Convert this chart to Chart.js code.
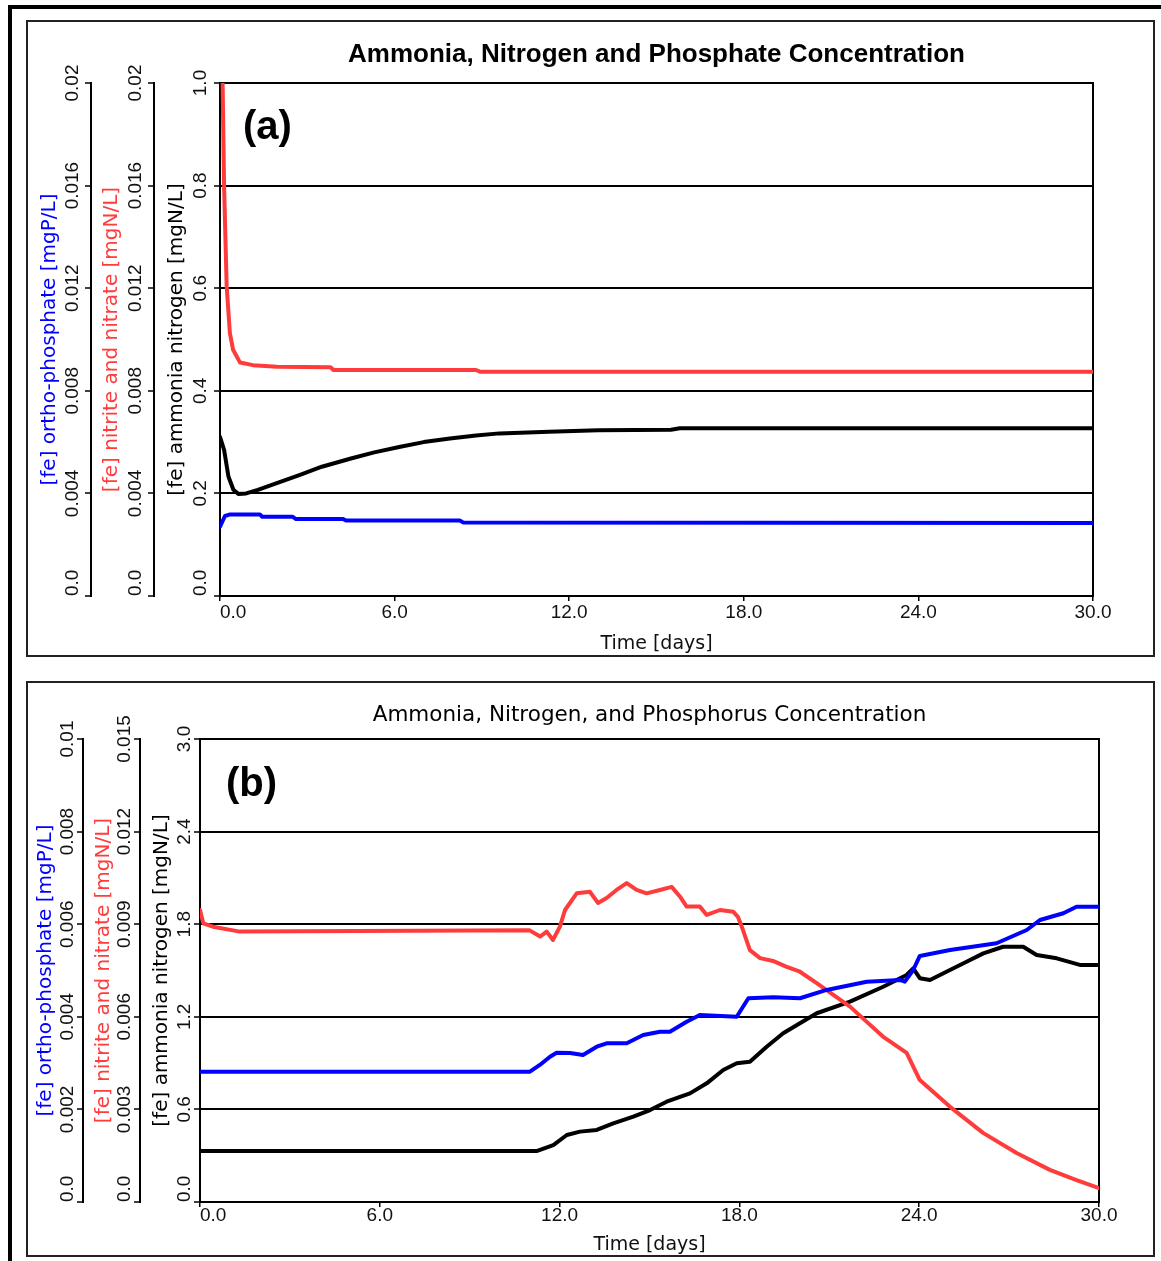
<!DOCTYPE html>
<html>
<head>
<meta charset="utf-8">
<script src="https://cdn.jsdelivr.net/npm/chart.js@4.4.1/dist/chart.umd.min.js"></script>
<style>
  body { margin: 0; background: #fff; width: 1161px; height: 1261px; position: relative; overflow: hidden; }
  .outer { position: absolute; left: 8px; top: 5px; width: 1160px; height: 1260px; border-top: 4px solid #000; border-left: 4px solid #000; }
  .panel { position: absolute; left: 26px; border: 2px solid #222; }
  #panelA { top: 20px; width: 1125px; height: 633px; }
  #panelB { top: 681px; width: 1125px; height: 572px; }
  .tag { position: absolute; font: bold 40px "Liberation Sans", Arial, sans-serif; line-height: 40px; color: #000; }
</style>
</head>
<body>
<div class="outer"></div>
<div class="panel" id="panelA"><canvas id="chartA" width="1125" height="633"></canvas></div>
<div class="panel" id="panelB"><canvas id="chartB" width="1125" height="572"></canvas></div>
<div class="tag" style="left:243px; top:105px;">(a)</div>
<div class="tag" style="left:226px; top:762px;">(b)</div>
<script>
// ---- panel (a) data ----
const daysA_phosphate = [0, 0.17, 0.35, 1.37, 1.45, 2.5, 2.6, 4.23, 4.33, 8.25, 8.35, 30];
const phosphateA = [0.0027, 0.00312, 0.00318, 0.00318, 0.00309, 0.00309, 0.00300, 0.00300, 0.00294, 0.00294, 0.00287, 0.00285];
const daysA_nitrate = [0, 0.09, 0.14, 0.23, 0.34, 0.45, 0.69, 1.13, 1.96, 3.8, 3.9, 8.8, 8.95, 30];
const nitrateA = [0.0215, 0.0200, 0.0160, 0.01205, 0.01025, 0.0096, 0.0091, 0.0090, 0.00894, 0.00892, 0.00881, 0.00881, 0.00874, 0.00874];
const daysA_ammonia = [0, 0.14, 0.29, 0.46, 0.63, 0.9, 1.3, 2, 2.75, 3.5, 4.5, 5.3, 6.2, 7, 7.9, 8.8, 9.6, 11.3, 13, 15.5, 15.8, 20, 25, 30];
const ammoniaA = [0.31, 0.285, 0.233, 0.207, 0.199, 0.200, 0.207, 0.221, 0.236, 0.252, 0.268, 0.280, 0.291, 0.300, 0.307, 0.313, 0.317, 0.320, 0.323, 0.324, 0.327, 0.327, 0.327, 0.327];

// ---- panel (b) data ----
const daysB_phosphate = [0, 11.01, 11.34, 11.68, 11.9, 12.35, 12.78, 13.24, 13.57, 14.24, 14.79, 15.35, 15.68, 16.24, 16.68, 17.91, 18.3, 19.13, 20.02, 20.91, 22.25, 23.36, 23.52, 23.8, 24.02, 25.03, 26.58, 27.59, 28.03, 28.81, 29.25, 30];
const phosphateB = [0.002814, 0.002814, 0.00296, 0.003138, 0.003225, 0.003218, 0.003175, 0.003354, 0.003428, 0.003428, 0.003607, 0.003678, 0.003678, 0.003894, 0.004039, 0.004002, 0.0044, 0.004422, 0.0044, 0.00458, 0.004758, 0.004795, 0.004758, 0.005011, 0.005314, 0.005443, 0.005588, 0.005875, 0.006091, 0.006236, 0.006378, 0.006378];
const daysB_nitrate = [0, 0.11, 0.43, 1.33, 11.0, 11.35, 11.57, 11.78, 12.01, 12.18, 12.57, 13.01, 13.28, 13.57, 13.9, 14.24, 14.57, 14.9, 15.35, 15.74, 16.02, 16.24, 16.68, 16.91, 17.35, 17.8, 17.95, 18.12, 18.35, 18.69, 19.12, 19.58, 20.02, 20.58, 21.69, 22.79, 23.58, 24.02, 25.02, 26.13, 27.25, 28.36, 29.25, 30];
const nitrateB = [0.00946, 0.00903, 0.00892, 0.00876, 0.00880, 0.00860, 0.00876, 0.00849, 0.00892, 0.00946, 0.01000, 0.01005, 0.00969, 0.00985, 0.01011, 0.01033, 0.01011, 0.01000, 0.01011, 0.01021, 0.00989, 0.00957, 0.00957, 0.00930, 0.00946, 0.00940, 0.00924, 0.00881, 0.00816, 0.00790, 0.00781, 0.00762, 0.00746, 0.00709, 0.00633, 0.00536, 0.00483, 0.00395, 0.00309, 0.00224, 0.00159, 0.00104, 0.00071, 0.00045];
const daysB_ammonia = [0, 11.23, 11.79, 12.24, 12.68, 13.24, 13.79, 14.46, 15.02, 15.57, 16.35, 16.91, 17.46, 17.91, 18.35, 18.91, 19.46, 20.58, 21.69, 22.8, 23.58, 23.8, 24.02, 24.36, 24.91, 25.58, 26.14, 26.8, 27.47, 27.92, 28.59, 29.36, 30];
const ammoniaB = [0.330, 0.330, 0.369, 0.434, 0.456, 0.467, 0.510, 0.553, 0.596, 0.650, 0.704, 0.769, 0.855, 0.899, 0.909, 1.006, 1.093, 1.223, 1.298, 1.395, 1.471, 1.514, 1.450, 1.438, 1.492, 1.557, 1.611, 1.654, 1.654, 1.600, 1.579, 1.536, 1.536];

// ---- tick values / labels ----
const dayTicks = [0, 6, 12, 18, 24, 30];
const dayLabels = ['0.0', '6.0', '12.0', '18.0', '24.0', '30.0'];
const tickA_side = [0, 0.004, 0.008, 0.012, 0.016, 0.02];
const labelA_side = ['0.0', '0.004', '0.008', '0.012', '0.016', '0.02'];
const tickA_ammonia = [0, 0.2, 0.4, 0.6, 0.8, 1.0];
const labelA_ammonia = ['0.0', '0.2', '0.4', '0.6', '0.8', '1.0'];
const tickB_phosphate = [0, 0.002, 0.004, 0.006, 0.008, 0.01];
const labelB_phosphate = ['0.0', '0.002', '0.004', '0.006', '0.008', '0.01'];
const tickB_nitrate = [0, 0.003, 0.006, 0.009, 0.012, 0.015];
const labelB_nitrate = ['0.0', '0.003', '0.006', '0.009', '0.012', '0.015'];
const tickB_ammonia = [0, 0.6, 1.2, 1.8, 2.4, 3.0];
const labelB_ammonia = ['0.0', '0.6', '1.2', '1.8', '2.4', '3.0'];

const RED = '#ff3c3c', BLUE = '#0000ff', BLACK = '#000';
const tickFont = { family: '"Liberation Sans", Arial, sans-serif', size: 19 };
const axisTitleFont = { family: '"DejaVu Sans", sans-serif', size: 20, weight: 'normal' };
// first label sits beside its tick instead of centred on it (as in the original plot)
const SHIFT = '     ';

function pts(xs, ys) {
  return xs.map((x, i) => ({ x: x, y: ys[i] }));
}

function yAxis(o) {
  return {
    type: 'linear', position: 'left', weight: o.weight,
    min: o.ticks[0], max: o.ticks[o.ticks.length - 1],
    afterBuildTicks: s => { s.ticks = o.ticks.map(v => ({ value: v })); },
    afterFit: s => { s.width = o.width; },
    ticks: {
      autoSkip: false, minRotation: 90, maxRotation: 90, crossAlign: 'center',
      padding: o.pad, color: '#111', font: tickFont,
      callback: (v, i) => (i === 0 ? SHIFT : '') + o.labels[i]
    },
    grid: { drawOnChartArea: !!o.main, color: BLACK, lineWidth: 2, tickLength: 6, tickWidth: 1.5 },
    border: { color: BLACK, width: 2 },
    title: { display: true, text: o.title, color: o.color, font: axisTitleFont, padding: { top: o.titlePad, bottom: 0 } }
  };
}

function makeChart(id, p) {
  new Chart(document.getElementById(id), {
    type: 'line',
    data: {
      datasets: [
        { data: pts(p.daysP, p.phos), borderColor: BLUE, yAxisID: 'yP' },
        { data: pts(p.daysN, p.nit), borderColor: RED, yAxisID: 'yN' },
        { data: pts(p.daysA, p.amm), borderColor: BLACK, yAxisID: 'y' }
      ]
    },
    options: {
      responsive: false,
      animation: false,
      events: [],
      layout: { padding: { left: p.padLeft, right: p.padRight, top: 0, bottom: 0 } },
      elements: {
        line: { borderWidth: 4, tension: 0, fill: false, borderCapStyle: 'round', borderJoinStyle: 'round' },
        point: { radius: 0 }
      },
      plugins: {
        legend: { display: false },
        tooltip: { enabled: false },
        title: {
          display: true, text: p.title, color: BLACK, font: p.titleFont, fullSize: false,
          padding: { top: p.titleTop, bottom: p.titleBottom }
        }
      },
      scales: {
        x: {
          type: 'linear', min: 0, max: 30,
          afterBuildTicks: s => { s.ticks = dayTicks.map(v => ({ value: v })); },
          afterFit: s => { s.height = p.xHeight; },
          ticks: {
            autoSkip: false, maxRotation: 0, padding: p.xPad, color: '#111', font: tickFont,
            callback: (v, i) => (i === 0 ? SHIFT : '') + dayLabels[i]
          },
          grid: { drawOnChartArea: false, color: BLACK, tickLength: 5, lineWidth: 1.5 },
          border: { color: BLACK, width: 2 },
          title: { display: true, text: 'Time [days]', color: '#111', font: { family: '"DejaVu Sans", sans-serif', size: 19 }, padding: { top: 0, bottom: p.xTitlePad } }
        },
        yP: yAxis(p.axP),
        yN: yAxis(p.axN),
        y: yAxis(p.axA),
        yR: {
          type: 'linear', position: 'right', min: 0, max: 1,
          afterFit: s => { s.width = 0; },
          ticks: { display: false },
          grid: { drawOnChartArea: false, drawTicks: false },
          border: { color: BLACK, width: 2 }
        }
      }
    }
  });
}

makeChart('chartA', {
  daysP: daysA_phosphate, phos: phosphateA,
  daysN: daysA_nitrate, nit: nitrateA,
  daysA: daysA_ammonia, amm: ammoniaA,
  title: 'Ammonia, Nitrogen and Phosphate Concentration',
  titleFont: { family: '"Liberation Sans", Arial, sans-serif', size: 26, weight: 'bold' },
  titleTop: 17.4, titleBottom: 12.4,
  padLeft: 9.5, padRight: 60, xHeight: 59, xPad: 0, xTitlePad: 0,
  axP: { weight: 3, ticks: tickA_side, labels: labelA_side, width: 53.5, pad: -13.95, titlePad: 0, title: '[fe] ortho-phosphate [mgP/L]', color: BLUE },
  axN: { weight: 2, ticks: tickA_side, labels: labelA_side, width: 63, pad: -13.95, titlePad: 9, title: '[fe] nitrite and nitrate [mgN/L]', color: RED },
  axA: { weight: 1, ticks: tickA_ammonia, labels: labelA_ammonia, width: 66, pad: -13.2, titlePad: 11, title: '[fe] ammonia nitrogen [mgN/L]', color: BLACK, main: true }
});

makeChart('chartB', {
  daysP: daysB_phosphate, phos: phosphateB,
  daysN: daysB_nitrate, nit: nitrateB,
  daysA: daysB_ammonia, amm: ammoniaB,
  title: 'Ammonia, Nitrogen, and Phosphorus Concentration',
  titleFont: { family: '"DejaVu Sans", sans-serif', size: 21.5, weight: 'normal' },
  titleTop: 19.1, titleBottom: 11.1,
  padLeft: 6, padRight: 54, xHeight: 53, xPad: -2.4, xTitlePad: -1.4,
  axP: { weight: 3, ticks: tickB_phosphate, labels: labelB_phosphate, width: 49, pad: -16.95, titlePad: 0, title: '[fe] ortho-phosphate [mgP/L]', color: BLUE },
  axN: { weight: 2, ticks: tickB_nitrate, labels: labelB_nitrate, width: 57, pad: -17.45, titlePad: 9, title: '[fe] nitrite and nitrate [mgN/L]', color: RED },
  axA: { weight: 1, ticks: tickB_ammonia, labels: labelB_ammonia, width: 60, pad: -16.9, titlePad: 10, title: '[fe] ammonia nitrogen [mgN/L]', color: BLACK, main: true }
});
</script>
</body>
</html>
